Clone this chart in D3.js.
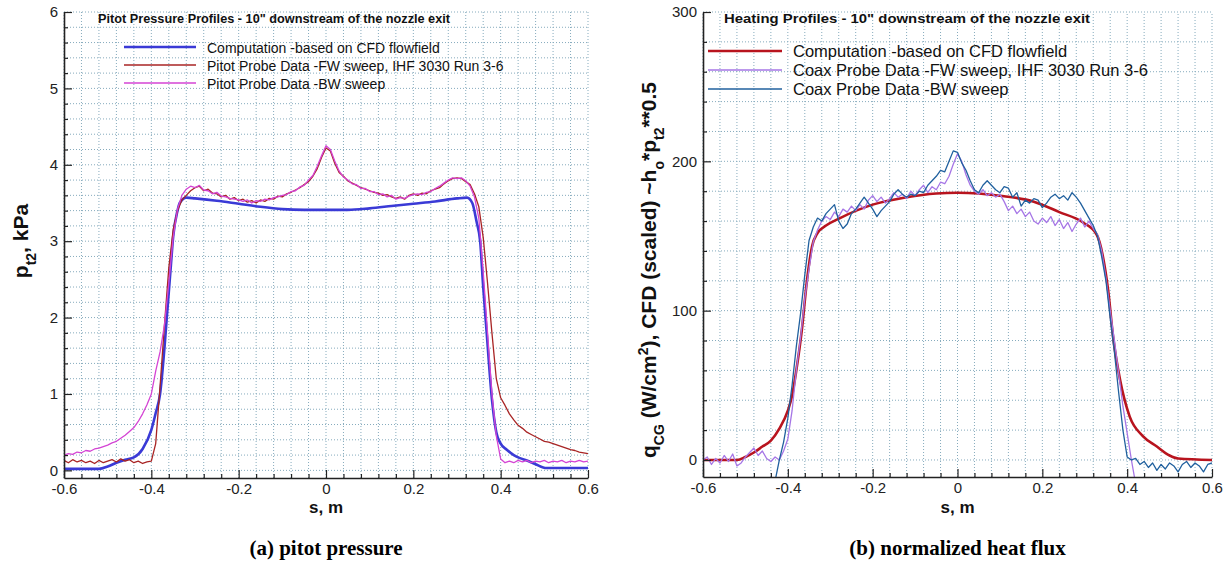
<!DOCTYPE html>
<html><head><meta charset="utf-8">
<script src="https://cdn.jsdelivr.net/npm/d3@7"></script>
<style>body{margin:0;background:#fff} svg{display:block}</style>
</head><body><svg id="c" width="1231" height="565"></svg>
<script>
// ---------- DATA ----------
const xTicks = [-0.6, -0.4, -0.2, 0, 0.2, 0.4, 0.6];
const xTickLabels = ["-0.6", "-0.4", "-0.2", "0", "0.2", "0.4", "0.6"];
const pitotYTicks = [0, 1, 2, 3, 4, 5, 6];
const pitotYTickLabels = ["0", "1", "2", "3", "4", "5", "6"];
const heatYTicks = [0, 100, 200, 300];
const heatYTickLabels = ["0", "100", "200", "300"];

// uniform sampling of the probe sweeps (s in metres)
const sweepStep = 0.01;

// Pitot pressure, kPa (probe FW sweep) s = -0.60 ... 0.60
const pitotFW = [
 0.13,0.10,0.14,0.11,0.13,0.10,0.12,0.09,0.13,0.10,
 0.12,0.14,0.11,0.15,0.12,0.14,0.10,0.12,0.09,0.11,
 0.12,0.35,1.10,1.90,2.65,3.15,3.40,3.54,3.60,3.66,
 3.70,3.72,3.66,3.68,3.63,3.62,3.58,3.60,3.55,3.57,
 3.53,3.55,3.51,3.53,3.50,3.54,3.52,3.56,3.55,3.59,
 3.58,3.62,3.64,3.67,3.70,3.74,3.78,3.85,3.95,4.10,
 4.22,4.18,4.02,3.90,3.85,3.79,3.76,3.73,3.70,3.68,
 3.66,3.64,3.63,3.60,3.61,3.58,3.56,3.58,3.55,3.60,
 3.62,3.60,3.63,3.62,3.66,3.68,3.70,3.75,3.79,3.82,
 3.83,3.82,3.78,3.74,3.62,3.45,3.05,2.45,1.80,1.20,
 0.95,0.85,0.74,0.66,0.59,0.55,0.50,0.47,0.44,0.41,
 0.38,0.37,0.35,0.33,0.31,0.29,0.27,0.26,0.24,0.23,
 0.22];
const pitotFWStart = -0.6;

// Pitot pressure, kPa (probe BW sweep) s = -0.60 ... 0.60
const pitotBW = [
 0.20,0.22,0.21,0.24,0.23,0.26,0.25,0.28,0.29,0.31,
 0.33,0.36,0.38,0.42,0.46,0.51,0.56,0.64,0.74,0.86,
 1.00,1.30,1.55,1.90,2.45,3.05,3.42,3.60,3.68,3.72,
 3.70,3.73,3.67,3.66,3.62,3.64,3.59,3.58,3.56,3.55,
 3.54,3.52,3.54,3.50,3.53,3.52,3.55,3.54,3.57,3.58,
 3.60,3.61,3.65,3.66,3.71,3.73,3.80,3.86,3.98,4.12,
 4.25,4.20,4.05,3.92,3.84,3.80,3.75,3.74,3.69,3.69,
 3.65,3.65,3.61,3.62,3.58,3.60,3.55,3.57,3.56,3.59,
 3.61,3.62,3.61,3.64,3.65,3.69,3.72,3.76,3.80,3.83,
 3.82,3.83,3.79,3.72,3.58,3.30,2.60,1.80,1.00,0.45,
 0.15,0.10,0.12,0.10,0.13,0.11,0.13,0.10,0.12,0.11,
 0.13,0.10,0.12,0.11,0.13,0.10,0.12,0.11,0.13,0.11,
 0.12];
const pitotBWStart = -0.6;

// CFD pitot pressure
const pitotCFD_s = [-0.6,-0.52,-0.5,-0.48,-0.46,-0.44,-0.42,-0.40,-0.39,-0.38,-0.37,-0.365,-0.355,-0.35,-0.34,-0.335,-0.32,-0.3,-0.25,-0.2,-0.15,-0.1,-0.05,0,0.05,0.1,0.15,0.2,0.25,0.3,0.323,0.335,0.345,0.353,0.36,0.368,0.38,0.39,0.40,0.414,0.43,0.444,0.46,0.48,0.505,0.6];
const pitotCFD_p = [0.02,0.02,0.05,0.10,0.14,0.17,0.28,0.53,0.75,1.0,1.6,1.97,2.7,3.06,3.4,3.5,3.57,3.56,3.53,3.49,3.45,3.42,3.41,3.41,3.41,3.43,3.46,3.49,3.52,3.56,3.57,3.5,3.25,3.0,2.4,1.8,0.93,0.5,0.35,0.27,0.2,0.16,0.13,0.08,0.03,0.03];

// Heat flux (coax probe FW sweep) s = -0.60 ... 0.42
const heatFW = [
 0,2,-3,1,-2,3,-1,4,-4,-2,
 2,5,8,3,6,1,-1,2,0,6,
 14,33,60,82,108,128,146,154,160,163,
 161,166,163,168,166,170,167,171,168,174,
 177,173,176,172,175,179,176,178,175,180,
 177,181,184,179,183,181,186,185,190,198,
 205,200,191,184,180,178,181,177,179,176,
 178,173,167,170,165,168,163,166,160,158,
 162,159,163,157,161,155,159,153,158,162,
 156,160,155,151,140,122,100,80,58,36,
 18,0,-16];
const heatFWStart = -0.6;

// Heat flux (coax probe BW sweep) s = -0.43 ... 0.60
const heatBW = [
 -14,0,12,
 28,50,76,98,124,147,156,162,160,165,
 168,171,160,155,158,165,168,172,176,172,
 168,163,167,170,173,178,181,178,176,178,
 177,180,179,184,187,190,194,193,200,207,
 206,199,194,187,181,179,184,187,184,181,
 179,183,182,176,179,170,174,172,175,174,
 169,172,176,178,175,177,174,179,176,172,
 167,162,157,150,136,120,95,72,45,20,
 2,0,1,-3,-1,-5,-2,-7,-3,-6,
 -2,-4,-8,-3,-1,-5,-2,-4,-8,-3,
 -2];
const heatBWStart = -0.43;

// CFD scaled heating
const heatCFD_s = [-0.6,-0.52,-0.5,-0.48,-0.46,-0.44,-0.42,-0.40,-0.39,-0.38,-0.367,-0.355,-0.343,-0.33,-0.31,-0.277,-0.2,-0.12,-0.05,0,0.05,0.1,0.18,0.24,0.296,0.328,0.343,0.355,0.367,0.383,0.406,0.437,0.47,0.5,0.52,0.6];
const heatCFD_q = [0,0,2,5,9,13,21,33,43,60,87,120,143,152,157,162,171,176,178.5,179,178.5,177,173,166,159,151,136,114,82,54,29,16,9,3,1,0];

// ---------- DRAWING ----------
const svg = d3.select("#c");
const FONT = "'Liberation Sans', Arial, Helvetica, sans-serif";

function sweep(vals, start) { return vals.map((v, i) => [start + i * sweepStep, v]); }
function zipPairs(a, b) { return a.map((v, i) => [v, b[i]]); }

function panel(cfg) {
  const x = d3.scaleLinear().domain([-0.6, 0.6]).range([cfg.x0, cfg.x1]);
  const y = d3.scaleLinear().domain(cfg.yDomain).range([cfg.yBottom, cfg.yTop]);
  const g = svg.append("g");

  // grid
  const xGrid = d3.range(0, 31).map(k => -0.6 + k * 0.04);
  const yGrid = d3.range(0, Math.round(cfg.yMax / cfg.yMinor) + 1).map(k => k * cfg.yMinor);
  g.append("g").selectAll("line").data(xGrid).join("line")
    .attr("x1", d => x(d)).attr("x2", d => x(d))
    .attr("y1", cfg.yBottom).attr("y2", cfg.yTop)
    .attr("stroke", "#86abbd").attr("stroke-width", 1).attr("stroke-dasharray", "1,2");
  g.append("g").selectAll("line").data(yGrid).join("line")
    .attr("x1", cfg.x0).attr("x2", cfg.x1)
    .attr("y1", d => y(d)).attr("y2", d => y(d))
    .attr("stroke", "#86abbd").attr("stroke-width", 1).attr("stroke-dasharray", "1,2");

  // clip
  const cid = "clip" + cfg.id;
  svg.append("defs").append("clipPath").attr("id", cid).append("rect")
    .attr("x", cfg.x0).attr("y", cfg.yTop - 2).attr("width", cfg.x1 - cfg.x0).attr("height", cfg.yBottom - cfg.yTop + 2);

  const lg = g.append("g").attr("clip-path", `url(#${cid})`);
  cfg.series.forEach(s => {
    const line = d3.line().x(d => x(d[0])).y(d => y(d[1])).curve(s.smooth ? d3.curveMonotoneX : d3.curveLinear);
    lg.append("path").datum(s.data).attr("d", line)
      .attr("fill", "none").attr("stroke", s.color).attr("stroke-width", s.width)
      .attr("stroke-linejoin", "round");
  });

  // axes
  const xMinor = xGrid.filter(v => !xTicks.some(t => Math.abs(t - v) < 1e-6));
  const yMinorT = yGrid.filter(v => !cfg.yTicks.some(t => Math.abs(t - v) < 1e-6));

  g.append("g").attr("transform", `translate(0,${cfg.yBottom})`)
    .call(d3.axisBottom(x).tickValues(xTicks).tickFormat((d, i) => xTickLabels[i]).tickSize(-8).tickSizeOuter(0).tickPadding(5));
  g.append("g").attr("transform", `translate(0,${cfg.yBottom})`)
    .call(d3.axisBottom(x).tickValues(xMinor).tickFormat("").tickSize(-4).tickSizeOuter(0))
    .select(".domain").remove();
  g.append("g").attr("transform", `translate(${cfg.x0},0)`)
    .call(d3.axisLeft(y).tickValues(cfg.yTicks).tickFormat((d, i) => cfg.yTickLabels[i]).tickSize(-8).tickSizeOuter(0).tickPadding(6));
  g.append("g").attr("transform", `translate(${cfg.x0},0)`)
    .call(d3.axisLeft(y).tickValues(yMinorT).tickFormat("").tickSize(-4).tickSizeOuter(0))
    .select(".domain").remove();
  g.selectAll(".domain").attr("stroke", "#222").attr("stroke-width", 1.6);
  g.selectAll(".tick line").attr("stroke", "#222").attr("stroke-width", 1.2);
  g.selectAll(".tick text").attr("font-family", FONT).attr("font-size", 15).attr("fill", "#222");

  // plot title
  g.append("text").attr("x", cfg.titleX).attr("y", 23).text(cfg.title)
    .attr("font-family", FONT).attr("font-weight", "bold").attr("font-size", cfg.titleSize)
    .attr("textLength", cfg.titleLen).attr("lengthAdjust", "spacingAndGlyphs").attr("fill", "#111");

  // legend
  cfg.series.forEach((s, i) => {
    const ly = cfg.legY[i];
    g.append("line").attr("x1", cfg.legX0).attr("x2", cfg.legX1).attr("y1", ly).attr("y2", ly)
      .attr("stroke", s.color).attr("stroke-width", s.width);
    g.append("text").attr("x", cfg.legTextX).attr("y", ly + 5.5).text(s.name)
      .attr("font-family", FONT).attr("font-size", cfg.legSize).attr("fill", "#111");
  });

  // x label
  g.append("text").attr("x", x(0)).attr("y", 513).attr("text-anchor", "middle")
    .attr("font-family", FONT).attr("font-weight", "bold").attr("font-size", 17).attr("fill", "#111").text("s, m");

  // caption
  g.append("text").attr("x", x(0)).attr("y", 555).attr("text-anchor", "middle")
    .attr("font-family", "'Liberation Serif', 'Times New Roman', serif").attr("font-weight", "bold")
    .attr("font-size", 21).attr("fill", "#000").text(cfg.caption);
  return g;
}

panel({
  id: "L", x0: 64, x1: 588, yTop: 12, yBottom: 478, yDomain: [-0.1, 6], yMax: 6, yMinor: 0.2,
  yTicks: pitotYTicks, yTickLabels: pitotYTickLabels,
  title: "Pitot Pressure Profiles - 10\" downstream of the nozzle exit", titleX: 98, titleSize: 12, titleLen: 352,
  legX0: 124, legX1: 196, legTextX: 207, legY: [47, 65, 83], legSize: 14,
  caption: "(a) pitot pressure",
  series: [
    { name: "Computation -based on CFD flowfield", color: "#3a3ad6", width: 2.6, smooth: true, data: zipPairs(pitotCFD_s, pitotCFD_p) },
    { name: "Pitot Probe Data -FW sweep, IHF 3030 Run 3-6", color: "#a82424", width: 1.3, data: sweep(pitotFW, pitotFWStart) },
    { name: "Pitot Probe Data -BW sweep", color: "#d444d4", width: 1.3, data: sweep(pitotBW, pitotBWStart) }
  ]
});

panel({
  id: "R", x0: 703, x1: 1212, yTop: 12, yBottom: 477, yDomain: [-11.4, 300], yMax: 300, yMinor: 20,
  yTicks: heatYTicks, yTickLabels: heatYTickLabels,
  title: "Heating Profiles - 10\" downstream of the nozzle exit", titleX: 724, titleSize: 13, titleLen: 366,
  legX0: 708, legX1: 782, legTextX: 793, legY: [51, 70, 89], legSize: 16.5,
  caption: "(b) normalized heat flux",
  series: [
    { name: "Computation -based on CFD flowfield", color: "#b8141e", width: 2.6, smooth: true, data: zipPairs(heatCFD_s, heatCFD_q) },
    { name: "Coax Probe Data -FW sweep, IHF 3030 Run 3-6", color: "#a676e6", width: 1.3, data: sweep(heatFW, heatFWStart) },
    { name: "Coax Probe Data -BW sweep", color: "#20609e", width: 1.3, data: sweep(heatBW, heatBWStart) }
  ]
});

// y labels
const SUB = 14;
const yl = svg.append("text").attr("transform", "translate(28,241) rotate(-90)").attr("text-anchor", "middle")
  .attr("font-family", FONT).attr("font-weight", "bold").attr("font-size", 21).attr("fill", "#111");
yl.append("tspan").text("p");
yl.append("tspan").text("t2").attr("font-size", SUB).attr("baseline-shift", "sub");
yl.append("tspan").text(", kPa");

const yr = svg.append("text").attr("transform", "translate(656,270) rotate(-90)").attr("text-anchor", "middle")
  .attr("font-family", FONT).attr("font-weight", "bold").attr("font-size", 21).attr("fill", "#111");
yr.append("tspan").text("q");
yr.append("tspan").text("CG").attr("font-size", SUB).attr("baseline-shift", "sub");
yr.append("tspan").text(" (W/cm");
yr.append("tspan").text("2").attr("font-size", SUB).attr("baseline-shift", "super");
yr.append("tspan").text("), CFD (scaled) ~h");
yr.append("tspan").text("o").attr("font-size", SUB).attr("baseline-shift", "sub");
yr.append("tspan").text("*p");
yr.append("tspan").text("t2").attr("font-size", SUB).attr("baseline-shift", "sub");
yr.append("tspan").text("**0.5");
</script></body></html>
